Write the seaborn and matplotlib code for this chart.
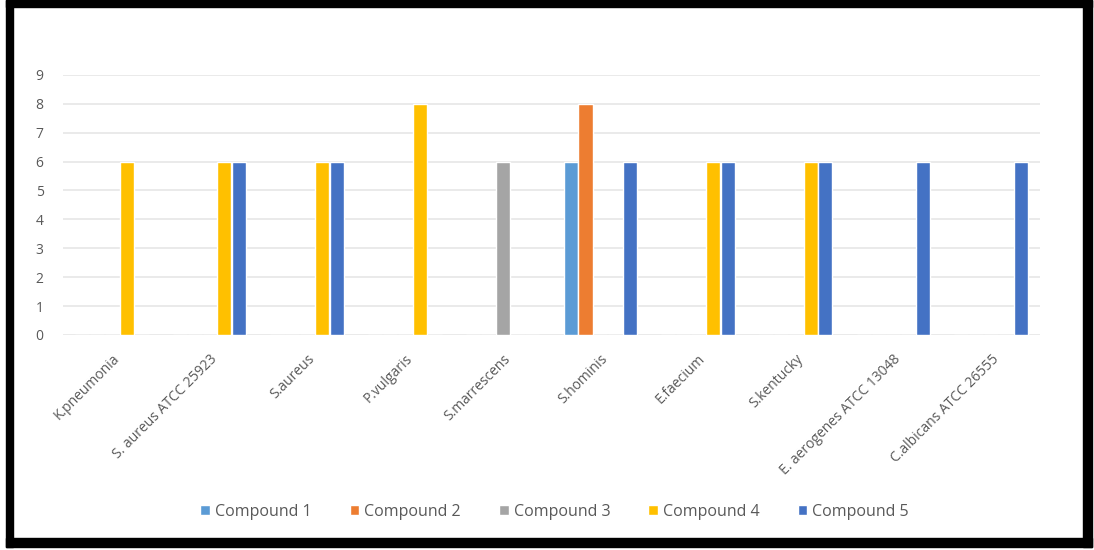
import pandas as pd
import matplotlib
matplotlib.use("Agg")
import matplotlib.pyplot as plt
import seaborn as sns
from matplotlib.patches import Rectangle

# data
organisms = ["K.pneumonia", "S. aureus ATCC 25923", "S.aureus", "P.vulgaris",
             "S.marrescens", "S.hominis", "E.faecium", "S.kentucky",
             "E. aerogenes ATCC 13048", "C.albicans ATCC 26555"]
compound_1 = [0, 0, 0, 0, 0, 6, 0, 0, 0, 0]
compound_2 = [0, 0, 0, 0, 0, 8, 0, 0, 0, 0]
compound_3 = [0, 0, 0, 0, 6, 0, 0, 0, 0, 0]
compound_4 = [6, 6, 6, 8, 0, 0, 6, 6, 0, 0]
compound_5 = [0, 6, 6, 0, 0, 6, 6, 6, 6, 6]
series_names = ["Compound 1", "Compound 2", "Compound 3", "Compound 4", "Compound 5"]
colors = ["#5B9BD5", "#ED7D31", "#A5A5A5", "#FFC000", "#4472C4"]

rows = []
for name, vals in zip(series_names, [compound_1, compound_2, compound_3, compound_4, compound_5]):
    for org, v in zip(organisms, vals):
        rows.append({"organism": org, "compound": name, "value": v})
df = pd.DataFrame(rows)

sns.set_style("white")
plt.rcParams['font.family'] = ['Open Sans', 'DejaVu Sans']

fig = plt.figure(figsize=(10.94, 5.5), dpi=100)
ax = fig.add_axes([0.0576, 0.391, 0.893, 0.473])

sns.barplot(data=df, x="organism", y="value", hue="compound", order=organisms,
            hue_order=series_names, palette=colors, width=0.76, gap=0.05,
            saturation=1, ax=ax, legend=True)

ax.set_ylim(0, 9)
ax.set_yticks(range(0, 10))
ax.set_xlim(-0.5, len(organisms) - 0.5)
ax.yaxis.grid(True, color="#e6e6e6", linewidth=1.2)
ax.set_axisbelow(True)
sns.despine(ax=ax, left=True, bottom=True)
ax.set_xlabel("")
ax.set_ylabel("")
ax.tick_params(axis="y", colors="#595959", labelsize=10, length=0, pad=14)
ax.tick_params(axis="x", colors="#595959", labelsize=10, length=0, pad=12)
plt.setp(ax.get_xticklabels(), rotation=45, ha="right", rotation_mode="anchor")

handles, labels = ax.get_legend_handles_labels()
ax.get_legend().remove()
fig.legend(handles, labels, loc="center", bbox_to_anchor=(0.507, 0.069), ncol=5,
           frameon=False, fontsize=11.5, labelcolor="#595959", handlelength=0.6,
           handleheight=0.6, handletextpad=0.3, columnspacing=2.4)

# black frame around the picture
def px_rect(x0, y0, x1, y1):
    W, H = 1094, 550
    fig.patches.append(Rectangle((x0 / W, 1 - y1 / H), (x1 - x0) / W, (y1 - y0) / H,
                                 transform=fig.transFigure, color="black", zorder=10))

px_rect(6, 0, 1092, 7)      # top
px_rect(6, 538, 1092, 547)  # bottom
px_rect(6, 0, 13, 547)      # left
px_rect(1083, 0, 1092, 547) # right

fig.savefig("out.png", dpi=100)
